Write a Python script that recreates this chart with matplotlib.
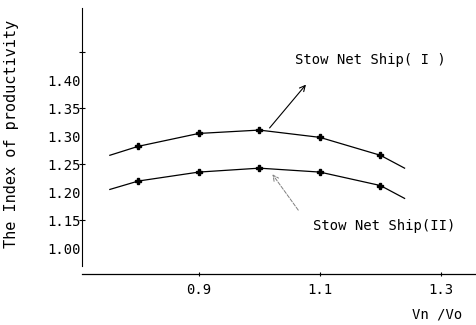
import matplotlib
matplotlib.use("Agg")
import matplotlib.pyplot as plt

# data
vn_ratio = [0.753, 0.8, 0.9, 1.0, 1.1, 1.2, 1.24]
ship_one = [1.266, 1.282, 1.305, 1.311, 1.298, 1.266, 1.243]
ship_two = [1.205, 1.220, 1.236, 1.243, 1.236, 1.212, 1.189]

y_label_pos = [1.10, 1.15, 1.20, 1.25, 1.30, 1.35, 1.40]
y_labels = ["1.00", "1.15", "1.20", "1.25", "1.30", "1.35", "1.40"]
y_marks = [1.15, 1.25, 1.35, 1.45]
x_ticks = [0.9, 1.1, 1.3]
x_labels = ["0.9", "1.1", "1.3"]

FONT = "DejaVu Sans Mono"

fig = plt.figure(figsize=(4.76, 3.25), dpi=100)
ax = fig.add_axes([82 / 476, 51 / 325, 394 / 476, 266 / 325])

ax.plot(vn_ratio, ship_one, color="black", lw=0.9, marker="P", ms=5,
        markevery=[1, 2, 3, 4, 5])
ax.plot(vn_ratio, ship_two, color="black", lw=0.9, marker="P", ms=4,
        markevery=[1, 2, 3, 4, 5])

ax.set_xlim(0.707, 1.358)
ax.set_ylim(1.054, 1.529)

for s in ["top", "right"]:
    ax.spines[s].set_visible(False)
ax.spines["left"].set_bounds(1.069, 1.529)
ax.spines["left"].set_linewidth(0.8)
ax.spines["bottom"].set_linewidth(0.9)

ax.yaxis.remove_overlapping_locs = False
ax.set_yticks(y_label_pos, y_labels, fontsize=10, family=FONT)
ax.set_yticks(y_marks, minor=True)
ax.tick_params(axis="y", which="major", length=0, pad=1)
ax.tick_params(axis="y", which="minor", length=4, direction="inout", width=0.8)
ax.set_xticks(x_ticks, x_labels, fontsize=10, family=FONT)
ax.tick_params(axis="x", length=3, direction="inout", width=0.8, pad=5)

ax.annotate("", xy=(1.080, 1.396), xytext=(1.014, 1.311),
            arrowprops=dict(arrowstyle="->", color="black", lw=0.8))
ax.text(1.059, 1.436, "Stow Net Ship( I )", fontsize=10, family=FONT,
        va="center", ha="left")

ax.annotate("", xy=(1.019, 1.236), xytext=(1.067, 1.164),
            arrowprops=dict(arrowstyle="->", color="gray", lw=0.7, ls="--"))
ax.text(1.088, 1.139, "Stow Net Ship(II)", fontsize=10, family=FONT,
        va="center", ha="left")

fig.text(437 / 476, 1 - 315 / 325, "Vn /Vo", fontsize=10, family=FONT,
         ha="center", va="center")
fig.text(12 / 476, 1 - 134 / 325, "The Index of productivity", fontsize=11,
         family=FONT, rotation=90, ha="center", va="center")

fig.savefig("out.png", dpi=100)
